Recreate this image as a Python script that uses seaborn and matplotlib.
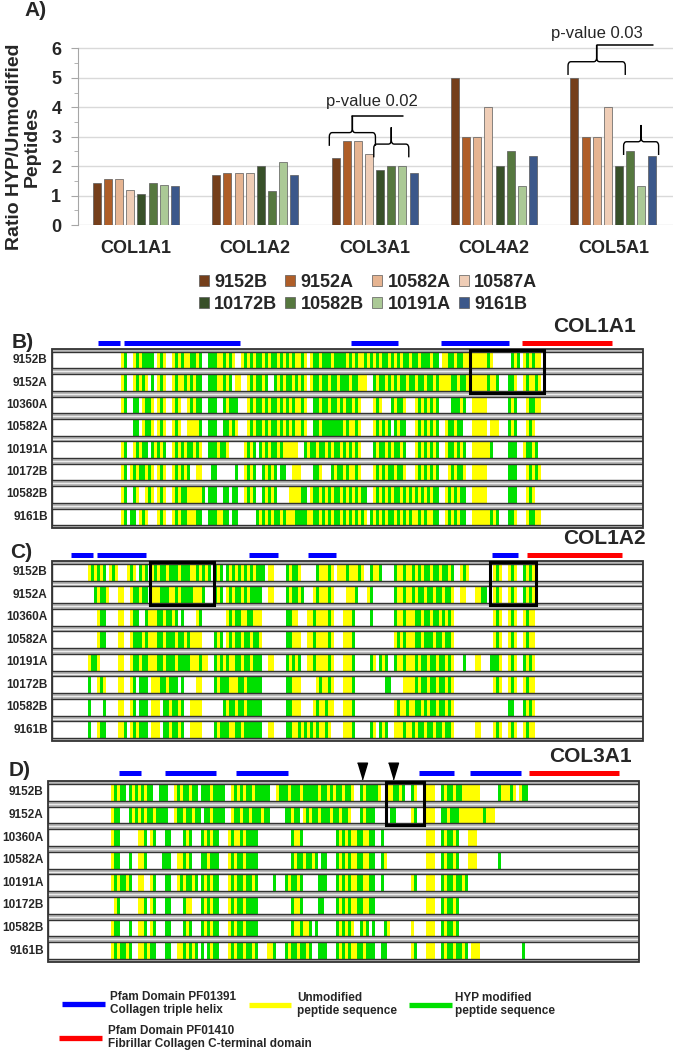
import numpy as np
import pandas as pd
import matplotlib.pyplot as plt
import seaborn as sns
from matplotlib.colors import ListedColormap
from matplotlib.patches import Rectangle, PathPatch
from matplotlib.path import Path
from matplotlib.ticker import FixedLocator

# ---------------- data: panel A ----------------
genes = ["COL1A1", "COL1A2", "COL3A1", "COL4A2", "COL5A1"]
samples = ["9152B", "9152A", "10582A", "10587A", "10172B", "10582B", "10191A", "9161B"]
ratio_col1a1 = [1.42, 1.58, 1.58, 1.2, 1.05, 1.43, 1.36, 1.34]
ratio_col1a2 = [1.7, 1.78, 1.78, 1.77, 2.0, 1.17, 2.13, 1.7]
ratio_col3a1 = [2.27, 2.85, 2.85, 2.4, 1.86, 2.0, 2.0, 1.78]
ratio_col4a2 = [5.0, 3.0, 3.0, 4.0, 2.0, 2.5, 1.33, 2.33]
ratio_col5a1 = [5.0, 3.0, 3.0, 4.0, 2.0, 2.5, 1.33, 2.33]

# ---------------- data: coverage maps (3 residue-bins per char: . none, y unmodified, g HYP) -------------
cov_samples = ["9152B", "9152A", "10360A", "10582A", "10191A", "10172B", "10582B", "9161B"]

col1a1_cov = [
    ".......... .......... ...yg..ygy gggg.ygy.. ygygyyggyg ..gggyygyg y..ygygygg ygyggygygy gyygy.yggy gggyggggyg ygyygygygy ggygygyggy ggygggygg. yyggyggyyg yyyyygy... ...gyg.ygy gyy",
    ".......... .......... ...yg..ygy gy.g.ygy.. ygyygygygg ..gggyygyg .yy..ygygg yg..gygygg ygygy.yggy ggyggygggy ggyyy..gyg gygygyggyg gyggyggygy yyyggyggyy yyyyygyyg. ..ggy..ygy ygy",
    ".......... .......... ...yg..gg. yggy.ygy.. ygy..ygygg ..ggg..gyg gg...ygygg ygyggygygy gyygy..ggy ggyggygygg ygy....ygy ...gyggy.. .ygygygyg. ...gggyg.. yyyyy..... ..gyg...yg gyy",
    ".......... .......... .......gg. yggy.ygy.. ygy..yyyyg ..ggg..ggy gy...ygygg ygyggygygy gyygy..ggy gggggggygy ygy....ygy gyg.gygg.. .ygygygyg. .yggygg... yyyyy.yyy. ..gyg...yg y",
    ".......... .......... ...yg..ygy gg.gygyg.. ygygyggygy ..gggyggy. ....ygyg.g ygyggygyyy yy..gyggyg gygyggygyg ygy....gyg gygyggyg.. .ygygygyg. .yggygyg.. yyyyyyg... ..ggg..ygg yg",
    ".......... .......... ...yg.ygyg gygy.ygy.. ygygyg..yy ...gg..... .g..ygyg.. gygyg.gg.. yyy....ggy ...gyggygy ygy....ygy gyggyggy.. .ygygygyg. ..ygyggy.. yyyyy..... ..ggg...yg ygy",
    ".......... .......... ...yg..gy. .ygy.ygy.. ygyggyyyyy g.ggg..gg. gg..ygyg.. gygyg....y yyygg.yggy gygyggygyg ygygg..ygy gygyggygyg ygygygygg. .ygygygg.. yyyyy..... ..ggg...yg y",
    ".......... .......... ...yg.gg.y gy...ygy.. ygyggyyygg ..gggyygg. gg......gy gygyggygyy yggggyyggy gygyggygyg ygygy.gygy gyggygygyg yygygyygg. .ygygygg.. yyyyyygyg. ..ggy...yg gyy",
]
col1a2_cov = [
    ".......... ..ygygyg.y gy...ygy.g yg.ygyggyg ggygggyygy gyg.gyg.gy gygygygygg g.yy....gy ggy.....gy yygy.yyygy yygy..gyyg ....gyygyy gygyggyggy ggyg..ygy. .......ygy ..ygy..gyg y",
    ".......... ....gyggy. ..yy..yggy gg.yyygggy ygyggggyyy g...gyg.yg yggygygggg ..yy....gy ggyg...ygy yygy....yy yg...yg... ....gyygyy gyggyggygg yggy..yy.. .yygg..ygy ..ygy..gyg y",
    ".......... .....ygg.. ..yy..ygg. .gyyyggygg yg.g....yg ........yg yggyyggyyy ........gg yy...yygyy yygy...yyy g.....g... ....gyygyy yggyggyggy gygy...... .......ygy ..ygy..ygy y",
    ".......... .....ygg.. ..yy..yggg ygyyyggygg gyggygyyyy ....gyg.yg yggyggyggy ........gg yyy..yygyy yygy...yyy g......... ....ygygyy yggygggygg yggy...... .......ygy ..ygy..ygy y",
    ".......... ..yggy.... ..yy..yggy ggyyyggygg gyggggyyyg yy..gygygy yggyggyggg ..yy....gy gyg..yygyy yygy...yyy g.....gy.g yg..gyygyy ygyggyggyg gygy...g.. .yy...gggy ..ygy..gyg y",
    ".......... ..g..ygy.. ..yy..yg.g gg.yyyggyg gg.g....yy ....gygggy yyggyggggg ........gg yyy.....yg yygy...yyy g......... .gg....yyy ygyggyggyg gygy...... .......ygy ..ygy..ygy y",
    ".......... ..g....g.. ..yy..yg.g gg.yyy.ggy ggyg..yyyy .......gyg gyggyggggg ........gg yyy....ygy ygyy...yyy g......... ....ygyygy yggygyggyg gygy...... .......... ..gg...gyg y",
    ".......... ..g..ygg.. ..yyg.ygyg gg.yyy.ggy ggyg..yyyy ....gygggy yggygggggg ..yy....gg yygygygygy ygy....yyy g.....gy.g yg..yyygyy gyggyggygg yggy...... .yy....ygy ..ygy..ygy y",
]
col3a1_cov = [
    ".......... .......... .ygygg.gyg ygygg..ggg ..ygyggygg .gggygggg. .ygygyggyg gggg..yggg ygggyggggg yggygyggyg gy..gygggg y..yyggyg. .gy...yyy. .gyggyggyy yyyy...... gyyygy.ygg",
    ".......... .......... .ygg...gyg ygyggygggg ..yggyggyg g.ggygggg. .yggyggygg gygg.....g gygg.ygygg ygggyggygg y...gyggg. ....gg.... .yg...yyy. .ggygggyyy yyyyygyyy.",
    ".......... .......... .ygg...... yyg.yg...g g....gyg.. .gygygg... ygyygygggg .......... .gyyg..... ......gygy gyyggyygg. .g........ ......yyy. .gyggyg... yyy",
    ".......... .......... .ygg...g.. yyg.....gg g..yygyg.. .ggyggg... ygyggygggg .......... .gyggyggyg .gg...gygy gyyggyygg. .gy....... ......yyy. .gyggyg... yyy....... g",
    ".......... .......... .ygyggyg.. yy..yg...g g..ygyggyg .gygygg... ygyggyggyg .....g...g yggyg..... ggg...gygy gyyggyygg. .g........ .yg...yyy. .gyggyggyg",
    ".......... .......... ..yg...... yyg.yg...g g....gyy.. .gygygg... ygyggygggg .......... .gyyg..... gg....gygy gyyggyygg. .......... ......yyy. .gyggyg",
    ".......... .......... .ygg...g.. yyg.yg...g g....gyg.. .gygygg... ygyggygggg .......... .gyygyyg.g ......gygy gy..gyg.g. ..gy...... .y....yyy. .gyggyg",
    ".......... .......... .ygyggyg.. yygygg...g g..yygygyg .g.gygg... ygyggyggyg ...yyg...g yggyggyg.. ggg...gygy gyyggyggg. .gg....... .yg...yyy. .gyggyggyg .yyy...... ........g",
]

# Pfam domains and highlighted regions, in the same bin units
col1a1_helix = [(15.3, 22.7), (24.0, 62.7), (99.7, 115.3), (129.7, 152.3)]
col1a1_cterm = [(156.7, 186.7)]
col1a1_boxes = [(139.3, 164.0)]
col1a2_helix = [(6.3, 13.7), (15.0, 31.3), (65.7, 75.3), (85.3, 94.7), (146.7, 155.3)]
col1a2_cterm = [(158.3, 190.0)]
col1a2_boxes = [(32.7, 54.0), (146.0, 161.3)]
col3a1_helix = [(23.7, 31.0), (39.0, 56.0), (62.7, 80.0), (123.7, 135.3), (140.7, 157.7)]
col3a1_cterm = [(160.3, 190.3)]
col3a1_boxes = [(112.7, 125.3)]
col3a1_marks = [104.7, 115.0]

W, H = 674, 1050
NB = 197
CODE = {".": 0, "y": 1, "g": 2}
palette = ["#843C0C", "#C55A11", "#F4B183", "#F8CBAD", "#375623", "#548235", "#A9D18E", "#2F5597"]
cov_cmap = ListedColormap(["white", "#FFFF00", "#00E000"])


def box(x0, y0, x1, y1):
    return [x0 / W, 1 - y1 / H, (x1 - x0) / W, (y1 - y0) / H]


sns.set_style("white")
plt.rcParams["font.family"] = ["Liberation Sans", "DejaVu Sans"]

fig = plt.figure(figsize=(W / 100, H / 100), dpi=100)

# ---------------- panel A ----------------
ratios = [ratio_col1a1, ratio_col1a2, ratio_col3a1, ratio_col4a2, ratio_col5a1]
df = pd.DataFrame([(g, s, v) for g, vals in zip(genes, ratios) for s, v in zip(samples, vals)],
                  columns=["gene", "sample", "ratio"])

ax = fig.add_axes(box(78, 22, 673, 225))
sns.barplot(data=df, x="gene", y="ratio", hue="sample", order=genes, hue_order=samples,
            palette=palette, width=0.745, gap=0.28, edgecolor="#5a5a5a", linewidth=0.5, ax=ax)
handles, labels = ax.get_legend_handles_labels()
ax.get_legend().remove()

ax.set_xlim(-0.485, 4.5)
ax.set_ylim(0, 6.9)
ax.set_yticks(range(7))
ax.yaxis.set_minor_locator(FixedLocator(np.arange(0.5, 6, 1.0)))
ax.yaxis.grid(True, color="#d9d9d9", lw=1)
ax.set_axisbelow(True)
for s in ["top", "right", "bottom"]:
    ax.spines[s].set_visible(False)
ax.spines["left"].set_color("#a6a6a6")
ax.spines["left"].set_bounds(0, 6)
ax.tick_params(axis="y", which="both", left=True, color="#a6a6a6", direction="out")
ax.tick_params(axis="y", which="major", length=5, pad=7, labelsize=13)
ax.tick_params(axis="y", which="minor", length=3)
ax.tick_params(axis="x", length=0, pad=11, labelsize=13)
for t in ax.get_xticklabels() + ax.get_yticklabels():
    t.set_fontweight("bold")
ax.set_xlabel("")
ax.set_ylabel("")
fig.text(23 / W, 1 - 147 / H, "Ratio HYP/Unmodified\nPeptides", rotation=90, ha="center", va="center",
         fontsize=14, fontweight="bold", linespacing=1.05)

order = [0, 4, 1, 5, 2, 6, 3, 7]
fig.legend([handles[i] for i in order], [labels[i] for i in order], ncol=4, loc="upper center",
           bbox_to_anchor=(368 / W, 1 - 258 / H), frameon=False,
           prop={"weight": "bold", "size": 13}, handlelength=0.55, handleheight=0.55,
           handletextpad=0.3, columnspacing=0.45, labelspacing=0.25)

# bars grouped by category, sorted left to right
bars = sorted(ax.patches, key=lambda p: p.get_x())
groups = [[p for p in bars if abs(p.get_x() + p.get_width() / 2 - i) < 0.5] for i in range(len(genes))]


def brace(x0, x1, y, depth=0.45, peak=0.57, rx=0.025, ry=0.14):
    xm = (x0 + x1) / 2
    verts = [(x0, y - depth), (x0, y - ry), (x0, y), (x0 + rx, y), (xm - rx, y), (xm, y), (xm, y + ry),
             (xm, y + peak), (xm, y + ry), (xm, y), (xm + rx, y), (x1 - rx, y), (x1, y), (x1, y - ry),
             (x1, y - depth)]
    codes = [Path.MOVETO, Path.LINETO, Path.CURVE3, Path.CURVE3, Path.LINETO, Path.CURVE3, Path.CURVE3,
             Path.LINETO, Path.LINETO, Path.CURVE3, Path.CURVE3, Path.LINETO, Path.CURVE3, Path.CURVE3,
             Path.LINETO]
    ax.add_patch(PathPatch(Path(verts, codes), fill=False, edgecolor="black", lw=1.0, clip_on=False))
    return xm, y + peak


def span(gi, j0, j1, m=0.02):
    g = groups[gi]
    return g[j0].get_x() - m, g[j1].get_x() + g[j1].get_width() + m


# p-value annotations: (gene index, bars left brace, level, bars right brace, level, text, text dx, text y)
annotations = [(2, (0, 3), 3.14, (4, 6), 2.75, "p-value 0.02", 0.16, 4.2),
               (4, (0, 4), 5.55, (5, 7), 2.83, "p-value 0.03", 0.0, 6.5)]
for gi, b1, y1, b2, y2, txt, dx, ty in annotations:
    xa, top = brace(*span(gi, *b1), y1)
    xb, _ = brace(*span(gi, *b2), y2)
    ax.plot([xa, xb + 0.1], [top, top], color="black", lw=1.1, clip_on=False)
    ax.text(xa + dx, ty, txt, ha="center", va="center", fontsize=12)


# ---------------- coverage panels ----------------
def coverage(rect, rows, helix, cterm, boxes, bar_y, marks=()):
    cax = fig.add_axes(box(*rect))
    mat = np.array([[CODE[c] for c in r.replace(" ", "").ljust(NB, ".")] for r in rows])
    sns.heatmap(mat, ax=cax, cmap=cov_cmap, vmin=-0.5, vmax=2.5, cbar=False,
                xticklabels=False, yticklabels=cov_samples)
    cax.set_yticklabels(cov_samples, rotation=0, fontsize=8.5, fontweight="bold")
    cax.tick_params(axis="y", length=0, pad=3)
    n = len(rows)
    for r in range(n + 1):
        y0, y1 = max(r - 0.13, 0), min(r + 0.13, n)
        cax.add_patch(Rectangle((0, y0), NB, y1 - y0, facecolor="#b8b8b8", edgecolor="none", zorder=3))
        if 0 < r < n:
            cax.plot([0, NB], [r, r], color="#ececec", lw=0.8, zorder=4)
    for r in range(n):
        cax.add_patch(Rectangle((0, r + 0.13), NB, 0.74, fill=False, edgecolor="#333333", lw=1.0, zorder=4))
    cax.add_patch(Rectangle((0, 0), NB, n, fill=False, edgecolor="#333333", lw=1.3, zorder=5, clip_on=False))
    for s, e in helix:
        cax.plot([s, e], [bar_y, bar_y], color="#0000FF", lw=3.6, solid_capstyle="butt", clip_on=False)
    for s, e in cterm:
        cax.plot([s, e], [bar_y, bar_y], color="#FF0000", lw=3.6, solid_capstyle="butt", clip_on=False)
    for s, e in boxes:
        cax.add_patch(Rectangle((s, 0.03), e - s, 1.92, fill=False, edgecolor="black", lw=2.2,
                                zorder=6, clip_on=False))
    if len(marks):
        cax.plot(marks, [-0.42] * len(marks), ls="none", marker=[(-0.6, 1), (0.6, 1), (0, -1)], ms=12,
                 color="black", clip_on=False)
    return cax


coverage((52, 349, 643, 528), col1a1_cov, col1a1_helix, col1a1_cterm, col1a1_boxes, -0.27)
coverage((52, 561, 643, 741), col1a2_cov, col1a2_helix, col1a2_cterm, col1a2_boxes, -0.27)
coverage((48, 781, 639, 962), col3a1_cov, col3a1_helix, col3a1_cterm, col3a1_boxes, -0.35, col3a1_marks)

# panel letters and gene titles
for txt, x, y in [("A)", 24, 11), ("B)", 12, 342), ("C)", 10, 553), ("D)", 9, 770)]:
    fig.text(x / W, 1 - y / H, txt, ha="left", va="center", fontsize=15, fontweight="bold")
for txt, x, y in [("COL1A1", 594, 327), ("COL1A2", 604, 539), ("COL3A1", 590, 757)]:
    fig.text(x / W, 1 - y / H, txt, ha="center", va="center", fontsize=15, fontweight="bold")

# bottom legend
ov = fig.add_axes([0, 0, 1, 1])
ov.set_xlim(0, W)
ov.set_ylim(H, 0)
ov.axis("off")
legend_items = [(62, 105, 1004, "#0000FF", 110, "Pfam Domain PF01391\nCollagen triple helix"),
                (249, 291, 1005, "#FFFF00", 297, "Unmodified\npeptide sequence"),
                (409, 452, 1005, "#00E000", 455, "HYP modified\npeptide sequence"),
                (59, 102, 1038, "#FF0000", 108, "Pfam Domain PF01410\nFibrillar Collagen C-terminal domain")]
for x0, x1, y, c, tx, txt in legend_items:
    ov.plot([x0, x1], [y, y], color=c, lw=3.8, solid_capstyle="butt")
    ov.text(tx, y - 0.5, txt, ha="left", va="center", fontsize=8.5, fontweight="bold", linespacing=1.2)

fig.savefig("out.png", dpi=100)
